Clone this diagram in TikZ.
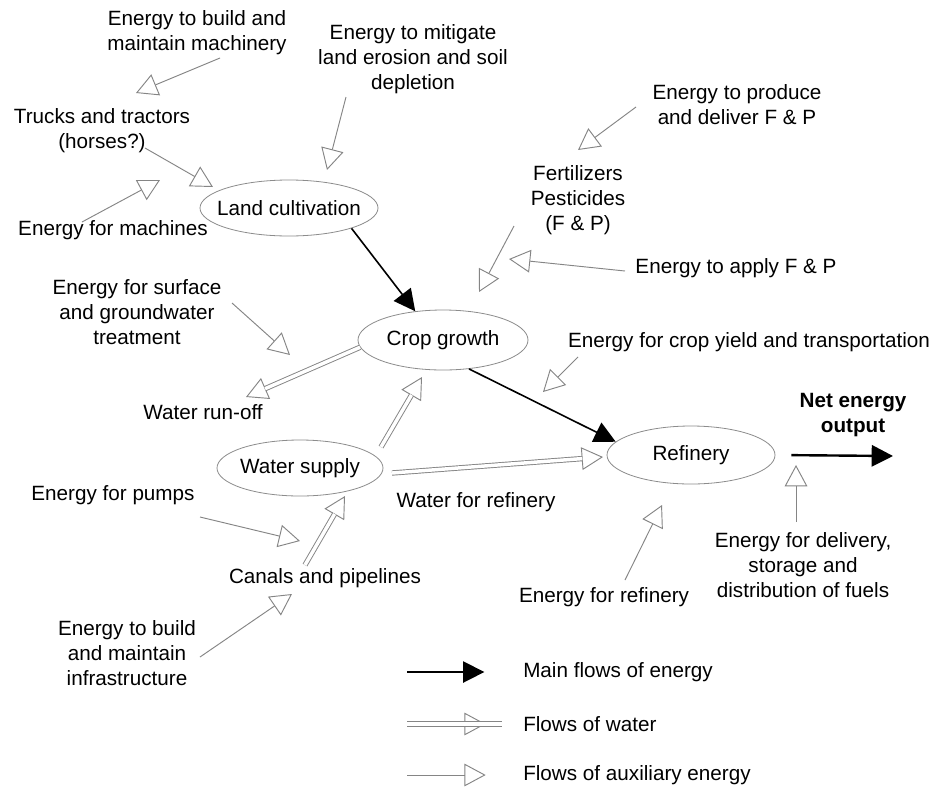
\documentclass[tikz,border=0pt]{standalone}
\usepackage{fontspec}
\setmainfont{Liberation Sans}
\usetikzlibrary{arrows.meta,shapes.geometric}
\definecolor{auxgray}{HTML}{858585}
\definecolor{ellgray}{HTML}{8C8C8C}
\newcommand{\diagfont}{\fontsize{15.5}{18.8}\selectfont}
\begin{document}
\begin{tikzpicture}[x=0.75pt,y=-0.75pt,
  txt/.style={font=\diagfont, align=center, inner sep=0pt},
  blob/.style={ellipse, draw=ellgray, line width=0.6pt, inner sep=0pt, font=\diagfont},
  aux/.style={draw=auxgray, line width=0.7pt,
    -{Triangle[open, length=16pt, width=17pt, line width=0.7pt]}},
  water/.style={draw=auxgray, line width=0.7pt,
    -{Triangle[open, length=16pt, width=17pt, line width=0.7pt]},
    postaction={draw=auxgray, double=white, double distance=2.6pt,
      line width=0.7pt, arrows=-, shorten >=15.6pt}},
  mainflow/.style={draw=black, line width=1.2pt,
    -{Triangle[length=16pt, width=16pt]}}]

\fill[white] (0,0) rectangle (937,789);
\useasboundingbox (0,0) rectangle (937,789);

% process stages
\node[blob, minimum width=133.5pt, minimum height=42pt] (land) at (289,208) {\makebox[0pt]{Land cultivation}};
\node[blob, minimum width=127.5pt, minimum height=45pt] (crop) at (443,340) {\makebox[0pt]{Crop growth}};
\node[blob, minimum width=126pt, minimum height=43.5pt] (refinery) at (691,455) {\makebox[0pt]{Refinery}};
\node[blob, minimum width=124.5pt, minimum height=42pt] (supply) at (300,468) {\makebox[0pt]{Water supply}};

% labels
\node[txt] (machinery) at (197,33) {Energy to build and\\maintain machinery};
\node[txt] (mitigate) at (413,59) {Energy to mitigate\\land erosion and soil\\depletion};
\node[txt] (trucks) at (102,131) {Trucks and tractors\\(horses?)};
\node[txt] (machines) at (113,230) {Energy for machines};
\node[txt] (produce) at (737,105) {Energy to produce\\and deliver F \& P};
\node[txt] (fert) at (578,200) {Fertilizers\\Pesticides\\(F \& P)};
\node[txt] (apply) at (736,268) {Energy to apply F \& P};
\node[txt] (surface) at (137,312) {Energy for surface\\and groundwater\\treatment};
\node[txt] (yield) at (749,342) {Energy for crop yield and transportation};
\node[txt] (runoff) at (203,412) {Water run-off};
\node[txt, font=\diagfont\bfseries] (net) at (853,415) {Net energy\\output};
\node[txt] (waterref) at (476,502) {Water for refinery};
\node[txt] (pumps) at (113,495) {Energy for pumps};
\node[txt] (canals) at (325,578) {Canals and pipelines};
\node[txt] (infra) at (127,653) {Energy to build\\and maintain\\infrastructure};
\node[txt] (delivery) at (803,565) {Energy for delivery,\\storage and\\distribution of fuels};
\node[txt] (refenergy) at (604,597) {Energy for refinery};

% arrow ends
\coordinate (machinery-out) at (220,58);
\coordinate (trucks-in) at (136,93);
\coordinate (trucks-out) at (145,148);
\coordinate (land-in-trucks) at (213,187);
\coordinate (machines-out) at (82,222);
\coordinate (trucks-in-low) at (160,180);
\coordinate (mitigate-out) at (346,97);
\coordinate (land-in-top) at (327,170);
\coordinate (produce-out) at (636,107);
\coordinate (fert-in) at (578,150);
\coordinate (apply-out) at (625,271);
\coordinate (apply-in) at (509,259);
\coordinate (fert-out) at (514,226);
\coordinate (crop-in-fert) at (479,292);
\coordinate (surface-out) at (232,303);
\coordinate (crop-in-surface) at (290,355);
\coordinate (runoff-in) at (246,397);
\coordinate (yield-out) at (578,357);
\coordinate (refinery-in-yield) at (543,392);
\coordinate (supply-out-up) at (381,447);
\coordinate (crop-in-water) at (422,377);
\coordinate (supply-out-right) at (392,473);
\coordinate (refinery-in-water) at (603,457);
\coordinate (pumps-out) at (200,517);
\coordinate (canals-in-pumps) at (300,541);
\coordinate (canals-out) at (305,565);
\coordinate (supply-in) at (345,496);
\coordinate (infra-out) at (200,657);
\coordinate (canals-in-infra) at (292,594);
\coordinate (net-out) at (893,456);
\coordinate (delivery-out) at (796,522);
\coordinate (refinery-in-delivery) at (796,465);
\coordinate (refenergy-out) at (625,580);
\coordinate (refinery-in-bottom) at (662,505);

% auxiliary energy
\draw[aux] (machinery-out) -- (trucks-in);
\draw[aux] (trucks-out) -- (land-in-trucks);
\draw[aux] (machines-out) -- (trucks-in-low);
\draw[aux] (mitigate-out) -- (land-in-top);
\draw[aux] (produce-out) -- (fert-in);
\draw[aux] (apply-out) -- (apply-in);
\draw[aux] (fert-out) -- (crop-in-fert);
\draw[aux] (surface-out) -- (crop-in-surface);
\draw[aux] (yield-out) -- (refinery-in-yield);
\draw[aux] (pumps-out) -- (canals-in-pumps);
\draw[aux] (infra-out) -- (canals-in-infra);
\draw[aux] (delivery-out) -- (refinery-in-delivery);
\draw[aux] (refenergy-out) -- (refinery-in-bottom);

% water
\draw[water] (crop.185) -- (runoff-in);
\draw[water] (supply-out-up) -- (crop-in-water);
\draw[water] (supply-out-right) -- (refinery-in-water);
\draw[water] (canals-out) -- (supply-in);

% main energy
\draw[mainflow] (land.-18) -- (crop.134);
\draw[mainflow] (crop.-48) -- (refinery.170);
\draw[mainflow, line width=1.8pt, shorten <=12pt] (refinery.east) -- (net-out);

% key
\node[txt, anchor=west] (key-main) at (523,672) {Main flows of energy};
\node[txt, anchor=west] (key-water) at (523,724) {Flows of water};
\node[txt, anchor=west] (key-aux) at (523,775) {Flows of auxiliary energy};
\coordinate (key-main-tail) at (407,672);
\coordinate (key-water-tail) at (407,724);
\coordinate (key-aux-tail) at (407,775);
\draw[mainflow, shorten >=29pt] (key-main-tail) -- (key-main.west);
\draw[water, shorten >=28pt] (key-water-tail) -- (key-water.west);
\draw[aux, shorten >=28pt] (key-aux-tail) -- (key-aux.west);
\end{tikzpicture}
\end{document}
